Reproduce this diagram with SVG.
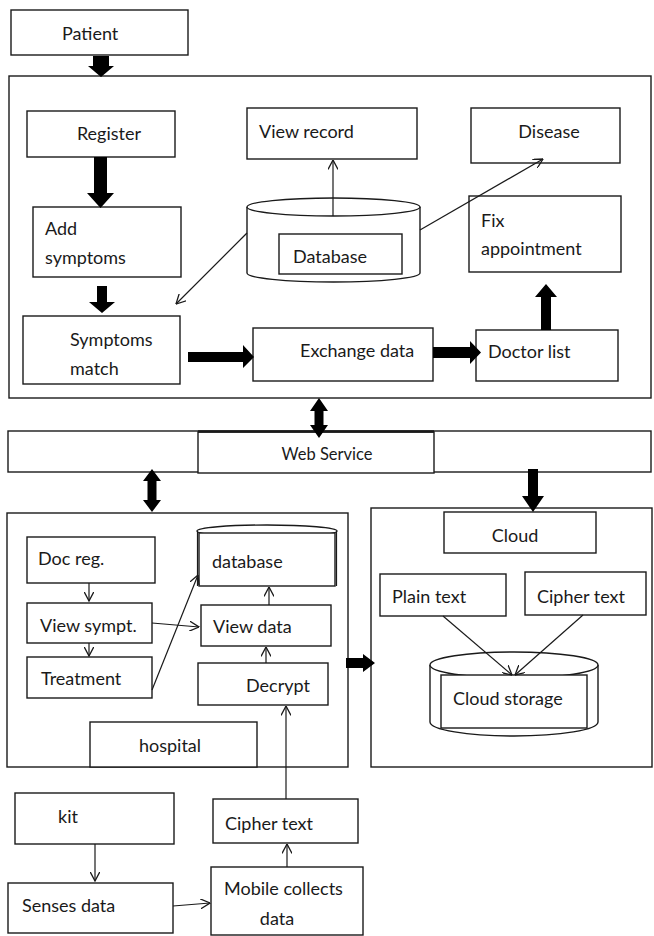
<svg xmlns="http://www.w3.org/2000/svg" width="654" height="936" viewBox="0 0 654 936">
  <style>
    .box { fill: #ffffff; stroke: #1a1a1a; stroke-width: 1.4; }
    .frame { fill: none; stroke: #1a1a1a; stroke-width: 1.4; }
    .lbl { font-family: Lato, "Open Sans", "Liberation Sans", sans-serif; font-size: 18px; fill: #1a1a1a; }
    .sm { font-size: 16.5px; }
    .mid { text-anchor: middle; }
    .fat { fill: #000000; stroke: none; }
    .thin { fill: none; stroke: #1a1a1a; stroke-width: 1.2; marker-end: url(#vee); }
  </style>
  <defs>
    <marker id="vee" viewBox="0 0 10 10" refX="9.5" refY="5" markerWidth="10" markerHeight="10" markerUnits="userSpaceOnUse" orient="auto">
      <path d="M0,0 L9.5,5 L0,10" fill="none" stroke="#1a1a1a" stroke-width="1.3"/>
    </marker>
  </defs>
  <rect width="654" height="936" fill="#ffffff"/>

  <!-- containers -->
  <g id="patient-area">
    <rect class="frame" x="9" y="76" width="642" height="322"/>
  </g>
  <g id="web-service-strip">
    <rect class="box" x="8" y="431" width="643" height="41"/>
  </g>
  <g id="hospital-area">
    <rect class="frame" x="7" y="513" width="341" height="254"/>
  </g>
  <g id="cloud-area">
    <rect class="frame" x="371" y="508" width="281" height="259"/>
  </g>

  <!-- nodes -->
  <g id="patient">
    <rect class="box" x="11" y="10" width="177" height="45"/>
    <text class="lbl" x="62" y="40">Patient</text>
  </g>
  <g id="register">
    <rect class="box" x="27" y="111" width="148" height="46"/>
    <text class="lbl mid" x="109" y="140">Register</text>
  </g>
  <g id="add-symptoms">
    <rect class="box" x="33" y="207" width="148" height="70"/>
    <text class="lbl" x="45" y="235">Add</text>
    <text class="lbl" x="45" y="264">symptoms</text>
  </g>
  <g id="symptoms-match">
    <rect class="box" x="23" y="316" width="157" height="68"/>
    <text class="lbl" x="70" y="346">Symptoms</text>
    <text class="lbl" x="70" y="375">match</text>
  </g>
  <g id="view-record">
    <rect class="box" x="247" y="108" width="170" height="51"/>
    <text class="lbl" x="259" y="138">View record</text>
  </g>
  <g id="disease">
    <rect class="box" x="471" y="108" width="149" height="55"/>
    <text class="lbl mid" x="549" y="138">Disease</text>
  </g>
  <g id="database">
    <path class="box" d="M247,207 L247,273 A86.5,9 0 0 0 420,273 L420,207"/>
    <ellipse class="box" cx="333.5" cy="207" rx="86.5" ry="9"/>
    <rect class="box" x="279" y="234" width="123" height="40"/>
    <text class="lbl" x="293" y="263">Database</text>
  </g>
  <g id="fix-appointment">
    <rect class="box" x="469" y="196" width="152" height="76"/>
    <text class="lbl" x="481" y="227">Fix</text>
    <text class="lbl" x="481" y="255">appointment</text>
  </g>
  <g id="exchange-data">
    <rect class="box" x="253" y="328" width="180" height="53"/>
    <text class="lbl" x="300" y="357">Exchange data</text>
  </g>
  <g id="doctor-list">
    <rect class="box" x="476" y="330" width="142" height="51"/>
    <text class="lbl" x="488" y="358">Doctor list</text>
  </g>
  <g id="web-service">
    <rect class="box" x="198" y="432" width="236" height="41"/>
    <line x1="198" y1="431.5" x2="434" y2="431.5" stroke="#1a1a1a" stroke-width="2.4"/>
    <text class="lbl sm mid" x="327" y="460">Web Service</text>
  </g>
  <g id="doc-reg">
    <rect class="box" x="27" y="537" width="128" height="46"/>
    <text class="lbl" x="38" y="565">Doc reg.</text>
  </g>
  <g id="view-sympt">
    <rect class="box" x="27" y="603" width="125" height="40"/>
    <text class="lbl" x="40" y="632">View sympt.</text>
  </g>
  <g id="treatment">
    <rect class="box" x="27" y="657" width="125" height="41"/>
    <text class="lbl" x="41" y="685">Treatment</text>
  </g>
  <g id="hospital-database">
    <ellipse class="box" cx="267" cy="531" rx="70" ry="6"/>
    <rect class="box" x="199" y="533" width="136" height="53"/>
    <line x1="197.5" y1="531" x2="197.5" y2="586" stroke="#1a1a1a" stroke-width="1.2"/>
    <line x1="336.5" y1="531" x2="336.5" y2="586" stroke="#1a1a1a" stroke-width="1.2"/>
    <text class="lbl" x="212" y="568">database</text>
  </g>
  <g id="view-data">
    <rect class="box" x="201" y="605" width="130" height="41"/>
    <text class="lbl" x="213" y="633">View data</text>
  </g>
  <g id="decrypt">
    <rect class="box" x="198" y="663" width="130" height="42"/>
    <text class="lbl" x="246" y="692">Decrypt</text>
  </g>
  <g id="hospital">
    <rect class="box" x="90" y="722" width="167" height="45"/>
    <text class="lbl mid" x="170" y="752">hospital</text>
  </g>
  <g id="cloud">
    <rect class="box" x="444" y="512" width="152" height="41"/>
    <text class="lbl mid" x="515" y="542">Cloud</text>
  </g>
  <g id="plain-text">
    <rect class="box" x="380" y="574" width="126" height="42"/>
    <text class="lbl" x="392" y="603">Plain text</text>
  </g>
  <g id="cloud-cipher-text">
    <rect class="box" x="525" y="572" width="121" height="43"/>
    <text class="lbl" x="537" y="603">Cipher text</text>
  </g>
  <g id="cloud-storage">
    <path class="box" d="M430,665 L430,722 A84,14 0 0 0 598,722 L598,665"/>
    <ellipse class="box" cx="514" cy="665" rx="84" ry="13"/>
    <rect class="box" x="441" y="675" width="146" height="53"/>
    <text class="lbl" x="453" y="705">Cloud storage</text>
  </g>
  <g id="kit">
    <rect class="box" x="15" y="793" width="159" height="51"/>
    <text class="lbl" x="58" y="823">kit</text>
  </g>
  <g id="senses-data">
    <rect class="box" x="8" y="883" width="165" height="50"/>
    <text class="lbl" x="22" y="912">Senses data</text>
  </g>
  <g id="cipher-text">
    <rect class="box" x="213" y="799" width="145" height="44"/>
    <text class="lbl" x="225" y="830">Cipher text</text>
  </g>
  <g id="mobile-collects-data">
    <rect class="box" x="211" y="867" width="152" height="68"/>
    <text class="lbl" x="224" y="895">Mobile collects</text>
    <text class="lbl mid" x="277" y="925">data</text>
  </g>

  <!-- connectors -->
  <g id="connectors">
    <!-- block arrows -->
    <polygon class="fat" points="93,56 109,56 109,66 114,66 101,77 88,66 93,66"/>
    <polygon class="fat" points="94,157 107,157 107,193 114,193 100.5,208 87,193 94,193"/>
    <polygon class="fat" points="97,286 107,286 107,302 115,302 102,313 89,302 97,302"/>
    <polygon class="fat" points="188,352 243,352 243,345 254,357 243,368 243,362 188,362"/>
    <polygon class="fat" points="433,347 470,347 470,341 481,352.5 470,364 470,358 433,358"/>
    <polygon class="fat" points="541,330 551,330 551,297 557,297 546,284 535,297 541,297"/>
    <polygon class="fat" points="319,398 328,411 323.5,411 323.5,425 328,425 319,438 310,425 314.5,425 314.5,411 310,411"/>
    <polygon class="fat" points="152,469 161,481 156.5,481 156.5,500 161,500 152,512 143,500 147.5,500 147.5,481 143,481"/>
    <polygon class="fat" points="528,469 538,469 538,496 544,496 533,512 522,496 528,496"/>
    <polygon class="fat" points="346,658 363,658 363,654 375,663 363,672 363,668 346,668"/>
    <!-- thin arrows -->
    <line class="thin" x1="333" y1="216" x2="333" y2="160"/>
    <line class="thin" x1="420" y1="230" x2="543" y2="159"/>
    <line class="thin" x1="247" y1="233" x2="176" y2="304"/>
    <line class="thin" x1="89" y1="583" x2="89" y2="601"/>
    <line class="thin" x1="89" y1="643" x2="89" y2="656"/>
    <line class="thin" x1="152" y1="623" x2="199" y2="627"/>
    <line class="thin" x1="152" y1="690" x2="198" y2="575"/>
    <line class="thin" x1="269" y1="605" x2="269" y2="587"/>
    <line class="thin" x1="266" y1="663" x2="266" y2="647"/>
    <line class="thin" x1="286" y1="799" x2="286" y2="706"/>
    <line class="thin" x1="443" y1="616" x2="512" y2="675"/>
    <line class="thin" x1="583" y1="615" x2="515" y2="675"/>
    <line class="thin" x1="95" y1="844" x2="95" y2="881"/>
    <line class="thin" x1="173" y1="906" x2="210" y2="903"/>
    <line class="thin" x1="287" y1="867" x2="287" y2="844"/>
  </g>
</svg>
